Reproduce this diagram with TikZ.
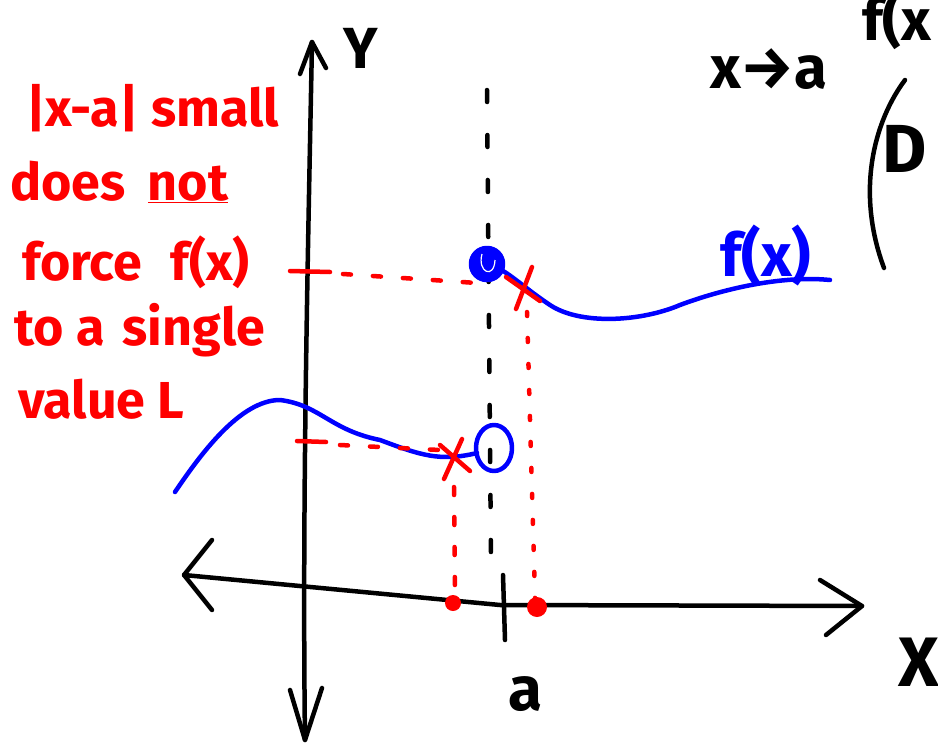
\documentclass[tikz,border=0pt]{standalone}
\usepackage{fontspec}
\setmainfont{Fira Sans}
\definecolor{pen}{RGB}{255,0,0}
\definecolor{bpen}{RGB}{0,0,255}
\begin{document}
\begin{tikzpicture}[x=1pt,y=-1pt,
  ink/.style={line width=4.5pt,line cap=round,line join=round},
  blk/.style={ink,black},
  red/.style={ink,pen},
  blu/.style={ink,bpen},
  reddash/.style={red,dash pattern=on 8pt off 22pt},
  reddot/.style={red,dash pattern=on 4pt off 22pt},
  handtxt/.style={inner sep=0pt,anchor=base west,font=\bfseries\fontsize{52}{52}\selectfont},
]
\useasboundingbox (0,0) rectangle (938,747);
% named points
\coordinate (ytop) at (312,42);
\coordinate (ybot) at (305,740);
\coordinate (xl) at (184,575);
\coordinate (xr) at (862,606);
\coordinate (full) at (487,264);
\coordinate (hole) at (494,448);
\coordinate (xup) at (522,287);
\coordinate (xlo) at (454,457);
\coordinate (dup) at (537,607);
\coordinate (dlo) at (453,603);
% axes
\draw[blk] (ytop) .. controls (308,250) and (302,500) .. (ybot);
\draw[blk] (300,74) -- (ytop) -- (326,68);
\draw[blk] (290,690) -- (ybot) -- (322,688);
\draw[blk] (xl) -- (500,605) -- (xr);
\draw[blk] (212,540) -- (xl) -- (212,610);
\draw[blk] (820,580) -- (xr) -- (826,635);
\draw[blk] (503,575) -- (505,640);
% vertical dashed line at a
\draw[blk,dash pattern=on 12pt off 33pt] (487,90) -- (491,560);
% labels
\node[handtxt,text=black] (Y) at (343,68) {\fontsize{58}{58}\selectfont Y};
\node[handtxt,text=black] (alab) at (508,710) {\fontsize{62}{62}\selectfont a};
\node[handtxt,text=black] (Xlab) at (898,686) {\fontsize{70}{70}\selectfont X};
\node[handtxt,text=black] (lim) at (710,88) {\fontsize{60}{60}\selectfont x→a};
\node[handtxt,text=black] (fx) at (862,40) {\fontsize{58}{58}\selectfont f(x};
\draw[blk] (905,80) .. controls (875,120) and (855,190) .. (884,268);
\node[handtxt,text=black] (D) at (882,172) {\fontsize{68}{68}\selectfont D};
% blue curves
\draw[blu] (full) .. controls (505,268) and (520,285) .. (550,305) .. controls (580,325) and (640,322) .. (680,305) .. controls (720,290) and (780,275) .. (830,280);
\fill[bpen] (full) circle (18);
\draw[blu] (full) circle (16);
\draw[white,line width=1.2pt] (482,254) .. controls (477,272) and (494,280) .. (495,260);
\draw[blu] (175,492) .. controls (200,455) and (240,400) .. (280,400) .. controls (320,405) and (330,430) .. (380,440) .. controls (420,455) and (440,462) .. (477,453);
\draw[blu] (hole) ellipse (18 and 23);
\node[handtxt,text=bpen] (flab) at (720,276) {\fontsize{60}{60}\selectfont f(x)};
% red marks
\draw[red] (290,271) -- (330,272);
\draw[reddash] (343,274) -- (477,283);
\draw[red] (297,441) -- (326,442);
\draw[reddash] (340,445) -- (440,450);
\draw[red] (xup) ++(-16,-10) -- ++(34,24) (xup) ++(10,-20) -- ++(-16,42);
\draw[red] (xlo) ++(-14,-12) -- ++(30,26) (xlo) ++(8,-18) -- ++(-18,40);
\draw[reddash] (xlo) ++(0,30) -- (455,595);
\draw[reddot] (xup) ++(5,25) -- (535,598);
\fill[pen] (dlo) circle (8);
\fill[pen] (dup) circle (10);
% red text
\node[handtxt,text=pen] (t1) at (26,126) {|x-a| small};
\node[handtxt,text=pen] (t2) at (10,200) {does\hspace{10pt} \underline{not}};
\node[handtxt,text=pen] (t3) at (22,280) {force\hspace{16pt} f(x)};
\node[handtxt,text=pen] (t4) at (14,345) {to a\hspace{6pt} single};
\node[handtxt,text=pen] (t5) at (18,418) {value L};
\end{tikzpicture}
\end{document}
